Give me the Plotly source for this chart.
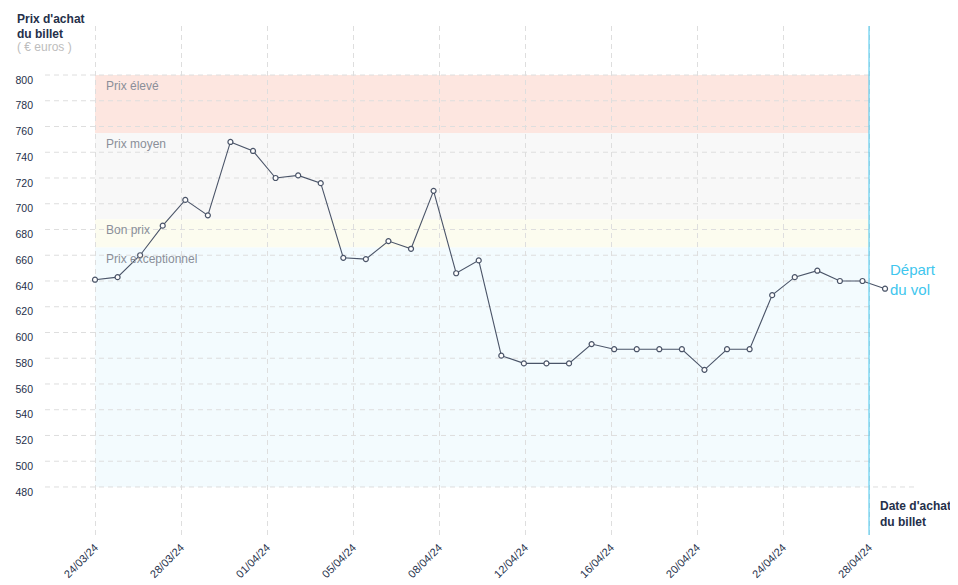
import plotly.graph_objects as go

# ---------------- data ----------------
purchase_dates = [
    "24/03/24", "25/03/24", "26/03/24", "27/03/24", "28/03/24", "29/03/24",
    "30/03/24", "31/03/24", "01/04/24", "02/04/24", "03/04/24", "04/04/24",
    "05/04/24", "06/04/24", "07/04/24", "08/04/24", "09/04/24", "10/04/24",
    "11/04/24", "12/04/24", "13/04/24", "14/04/24", "15/04/24", "16/04/24",
    "17/04/24", "18/04/24", "19/04/24", "20/04/24", "21/04/24", "22/04/24",
    "23/04/24", "24/04/24", "25/04/24", "26/04/24", "27/04/24", "28/04/24",
]
prices = [
    641, 643, 660, 683, 703, 691, 748, 741, 720, 722, 716, 658,
    657, 671, 665, 710, 646, 656, 582, 576, 576, 576, 591, 587,
    587, 587, 587, 571, 587, 587, 629, 643, 648, 640, 640, 634,
]
tick_labels = ["24/03/24", "28/03/24", "01/04/24", "05/04/24", "08/04/24",
               "12/04/24", "16/04/24", "20/04/24", "24/04/24", "28/04/24"]
y_ticks = list(range(480, 801, 20))

band_names = ["Prix élevé", "Prix moyen", "Bon prix", "Prix exceptionnel"]
band_tops = [800, 755, 688, 666]
band_bottoms = [755, 688, 666, 480]
band_colors = ["#fde6e0", "#f8f8f8", "#fcfcef", "#f3fbfe"]

# ---------------- styling ----------------
NAVY = "#25304a"
GRID = "#dedede"
CYAN = "#40c6ee"
LINE = "#4a5468"
FONT = "Liberation Sans, Arial, sans-serif"
TICK_STEP = 3.81  # spacing of x tick labels in index units
X_MIN, X_MAX = -2.215, 36.46
Y_MIN, Y_MAX = 442.7, 838.06
DASH = "5px,4px"

x_idx = list(range(len(prices)))
tick_pos = [k * TICK_STEP for k in range(len(tick_labels))]
x_end = tick_pos[-1]

fig = go.Figure()
fig.add_trace(go.Scatter(
    x=x_idx, y=prices, mode="lines+markers",
    line=dict(color=LINE, width=1.1),
    marker=dict(size=5, color="white", line=dict(color=LINE, width=1.2)),
    text=purchase_dates,
    hovertemplate="%{text}: %{y} €<extra></extra>",
    showlegend=False,
))

shapes = []
annotations = []
for name, top, bot, col in zip(band_names, band_tops, band_bottoms, band_colors):
    shapes.append(dict(type="rect", xref="x", yref="y", x0=0, x1=x_end,
                       y0=bot, y1=top, fillcolor=col, line=dict(width=0),
                       layer="below"))
    annotations.append(dict(xref="x", yref="y", x=0, y=top, text=name,
                            showarrow=False, xanchor="left", yanchor="middle",
                            xshift=9, yshift=-11,
                            font=dict(family=FONT, size=12, color="#8a8f99")))

# horizontal dashed grid lines (stop at the departure line, baseline runs on)
for v in y_ticks:
    shapes.append(dict(type="line", xref="x", yref="y", x0=X_MIN,
                       x1=(X_MAX if v == y_ticks[0] else x_end),
                       y0=v, y1=v, line=dict(color=GRID, width=1, dash=DASH),
                       layer="below"))
# departure vertical line
shapes.append(dict(type="line", xref="x", yref="paper", x0=x_end, x1=x_end,
                   y0=0, y1=1, line=dict(color=CYAN, width=1), layer="above"))

# titles
annotations += [
    dict(xref="paper", yref="paper", x=0, y=1, xanchor="left", yanchor="middle",
         xshift=-30, yshift=7, showarrow=False, text="<b>Prix d'achat</b>",
         font=dict(family=FONT, size=12, color=NAVY)),
    dict(xref="paper", yref="paper", x=0, y=1, xanchor="left", yanchor="middle",
         xshift=-30, yshift=-8, showarrow=False, text="<b>du billet</b>",
         font=dict(family=FONT, size=12, color=NAVY)),
    dict(xref="paper", yref="paper", x=0, y=1, xanchor="left", yanchor="middle",
         xshift=-30, yshift=-21, showarrow=False, text="( € euros )",
         font=dict(family=FONT, size=12, color="#bdbdbd")),
    dict(xref="x", yref="paper", x=x_end, y=0, xanchor="left", yanchor="middle",
         xshift=9, yshift=29, showarrow=False, text="<b>Date d'achat</b>",
         font=dict(family=FONT, size=12, color=NAVY)),
    dict(xref="x", yref="paper", x=x_end, y=0, xanchor="left", yanchor="middle",
         xshift=9, yshift=13, showarrow=False, text="<b>du billet</b>",
         font=dict(family=FONT, size=12, color=NAVY)),
    dict(xref="x", yref="y", x=x_end, y=prices[-1], xanchor="left", yanchor="middle",
         xshift=19, yshift=19, showarrow=False, text="Départ",
         font=dict(family=FONT, size=15, color=CYAN)),
    dict(xref="x", yref="y", x=x_end, y=prices[-1], xanchor="left", yanchor="middle",
         xshift=19, yshift=-1, showarrow=False, text="du vol",
         font=dict(family=FONT, size=15, color=CYAN)),
]

fig.update_layout(
    width=950, height=577,
    margin=dict(l=37, r=40, t=18, b=50, autoexpand=False),
    paper_bgcolor="white", plot_bgcolor="white",
    font=dict(family=FONT, color=NAVY),
    shapes=shapes, annotations=annotations,
    xaxis=dict(range=[X_MIN, X_MAX], tickvals=tick_pos, ticktext=tick_labels,
               tickangle=-45, showgrid=True, gridcolor=GRID, griddash=DASH,
               gridwidth=1, zeroline=False, showline=False, ticks="",
               ticklabelstandoff=3,
               tickfont=dict(family=FONT, size=11, color=NAVY)),
    yaxis=dict(range=[Y_MIN, Y_MAX], tickvals=y_ticks, showgrid=False,
               zeroline=False, showline=False, ticks="", ticklabelstandoff=11,
               ticklabelshift=5,
               tickfont=dict(family=FONT, size=10.5, color=NAVY)),
)

fig.write_html("out.html")
